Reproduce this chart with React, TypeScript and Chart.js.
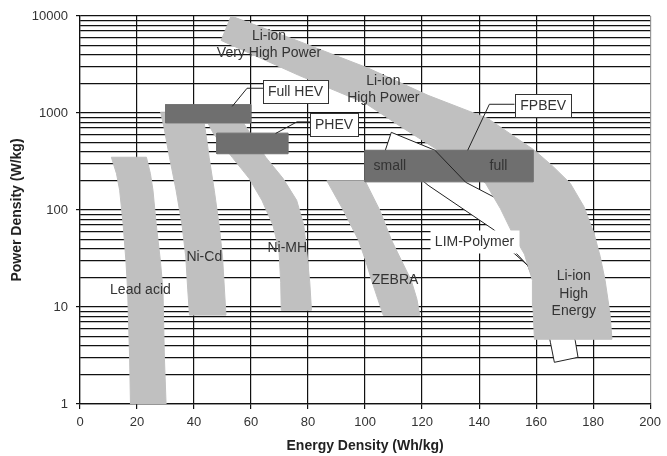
import React, { useEffect, useRef } from "react";
import { Chart, registerables } from "chart.js";
Chart.register(...registerables);

// Axis ticks
const X_TICKS = [0, 20, 40, 60, 80, 100, 120, 140, 160, 180, 200];
const Y_DECADES = [1, 10, 100, 1000, 10000];
const Y_MINOR_FACTORS = [1, 2, 3, 4, 5, 6, 7, 8, 9];

// Regions: [energy density Wh/kg, power density W/kg] outline vertices
const leadAcid: [number, number][] = [
  [11, 350], [23.3, 350], [24.7, 237], [25.6, 160], [26.7, 73], [28.2, 30], [29.1, 15], [29.6, 3.05], [30.2, 1],
  [17.7, 1], [17.4, 3.05], [16.7, 15], [16.1, 30], [15.1, 73], [13.9, 160], [12.8, 237], [11, 350],
];
const niCd: [number, number][] = [
  [28.3, 1020], [44, 1020], [43.6, 778], [44.6, 500], [45.3, 349], [47.1, 160], [48.8, 70], [50, 32.8], [51.2, 8.25],
  [38.4, 8.25], [37.8, 15], [37.1, 32.8], [35.8, 70], [33.7, 160], [31.4, 349], [29.5, 700], [28.3, 1020],
];
const niMh: [number, number][] = [
  [43, 1000], [55, 1000], [60, 600], [65.2, 349], [71.2, 212], [76, 126], [78.5, 69.5], [79.5, 38.4], [80.6, 18], [81.2, 9.25],
  [70.6, 9.25], [70.4, 18], [69.8, 38.4], [67.7, 69.5], [63.8, 126], [59.3, 212], [53.4, 349], [47, 600], [43, 1000],
];
const zebra: [number, number][] = [
  [86.6, 200], [100, 200], [105.2, 99], [109.3, 48.7], [112.8, 30], [116.2, 18.8], [118.2, 12], [119.2, 8.2],
  [106.4, 8.2], [104.5, 12], [102.3, 18.8], [100.2, 30], [97.7, 48.7], [92.4, 99], [86.6, 200],
];
const liIon: [number, number][] = [
  [53, 10000], [76.7, 5500], [101.2, 2890], [122.1, 1520], [143, 880], [159.4, 413], [166, 280], [172, 188],
  [176.8, 108], [180.3, 57.5], [182.5, 33], [184.2, 18.8], [185.9, 8.6], [186.6, 4.65],
  [159.4, 4.65], [158.9, 10], [158.7, 18.8], [155.9, 35], [151.7, 57.5], [147.5, 103], [142.3, 188],
  [134.3, 290], [125.6, 413], [113.3, 700], [100.1, 1260], [76.7, 2450], [49.5, 5600], [53, 10000],
];
const limPolymer: [number, number][] = [
  [109.2, 632], [124.5, 413], [135.3, 193], [145.4, 135], [153.5, 74.7], [160.4, 30.3], [167.4, 11.7],
  [173.7, 4.54], [174.7, 3.03], [166.4, 2.69], [165, 4.33], [162.2, 11.7], [157, 26.9], [145.4, 61.8],
  [122.1, 180], [115.1, 269], [107.1, 413], [109.2, 632],
];
const fullHev: [number, number][] = [[30, 790], [60, 790], [60, 1220], [30, 1220], [30, 790]];
const phev: [number, number][] = [[48, 380], [73, 380], [73, 620], [48, 620], [48, 380]];
const fpbev: [number, number][] = [[100, 195], [159, 195], [159, 413], [100, 413], [100, 195]];

// Leader lines
const fullHevLeader: [number, number][] = [[64.5, 1800], [58.6, 1800], [53.4, 1170]];
const phevLeader: [number, number][] = [[80.8, 810], [76.1, 810], [68.6, 615]];
const fpbevLeader: [number, number][] = [[152.4, 1230], [143.6, 1230], [136, 413]];
const limLeader: [number, number][] = [[150.7, 39.3], [157, 26.9]];
const limInBox: [number, number][] = [[124.5, 413], [135.3, 193]];

type Label = { lines: string[]; x: number; y: number; box?: boolean; bg?: boolean };
const LABELS: Label[] = [
  { lines: ["Li-ion", "Very High Power"], x: 66.3, y: 5168 },
  { lines: ["Li-ion", "High Power"], x: 106.4, y: 1776 },
  { lines: ["Full HEV"], x: 75.6, y: 1686, box: true },
  { lines: ["PHEV"], x: 89.1, y: 761, box: true },
  { lines: ["FPBEV"], x: 162.5, y: 1215, box: true },
  { lines: ["small"], x: 108.7, y: 289 },
  { lines: ["full"], x: 146.8, y: 289 },
  { lines: ["Lead acid"], x: 21.2, y: 15.1 },
  { lines: ["Ni-Cd"], x: 43.6, y: 33.3 },
  { lines: ["Ni-MH"], x: 72.7, y: 41.6 },
  { lines: ["ZEBRA"], x: 110.5, y: 19.2 },
  { lines: ["LIM-Polymer"], x: 138.4, y: 47.6, bg: true },
  { lines: ["Li-ion", "High", "Energy"], x: 173.2, y: 14.0 },
];

const BAND = "#c0c0c0";
const DARK = "#6f6f6f";
const FONT = '"Liberation Sans", Arial, sans-serif';

const pts = (a: [number, number][]) => a.map(([x, y]) => ({ x, y }));
const poly = (a: [number, number][], fillColor: string, border?: string) => ({
  data: pts(a),
  showLine: true,
  fill: "shape",
  backgroundColor: fillColor,
  borderColor: border ?? fillColor,
  borderWidth: 1,
  pointRadius: 0,
  tension: 0,
});
const line = (a: [number, number][]) => ({
  data: pts(a),
  showLine: true,
  fill: false,
  borderColor: "#222",
  borderWidth: 1,
  pointRadius: 0,
  tension: 0,
});

const labelPlugin = {
  id: "regionLabels",
  afterDatasetsDraw(chart: any) {
    const { ctx, scales } = chart;
    const xs = scales.x;
    const ys = scales.y;
    ctx.save();
    ctx.font = `14px ${FONT}`;
    ctx.textAlign = "center";
    ctx.textBaseline = "middle";
    const lh = 17.5;
    for (const lb of LABELS) {
      const cx = xs.getPixelForValue(lb.x);
      const cy = ys.getPixelForValue(lb.y);
      const n = lb.lines.length;
      if (lb.box || lb.bg) {
        const w = Math.max(...lb.lines.map((t) => ctx.measureText(t).width)) + 10;
        const h = n * lh + 5;
        const l = Math.round(cx - w / 2) + 0.5;
        const t = Math.round(cy - h / 2) + 0.5;
        ctx.fillStyle = "#fff";
        ctx.fillRect(l, t, Math.round(w), Math.round(h));
        if (lb.box) {
          ctx.strokeStyle = "#333";
          ctx.lineWidth = 1;
          ctx.strokeRect(l, t, Math.round(w), Math.round(h));
        }
      }
      ctx.fillStyle = "#333";
      lb.lines.forEach((t, i) => ctx.fillText(t, cx, cy + (i - (n - 1) / 2) * lh + 1));
    }
    ctx.restore();
  },
};

export default function App() {
  const ref = useRef<HTMLCanvasElement>(null);
  useEffect(() => {
    if (!ref.current) return;
    const yTicks: number[] = [];
    Y_DECADES.slice(0, -1).forEach((d) => Y_MINOR_FACTORS.forEach((f) => yTicks.push(f * d)));
    yTicks.push(Y_DECADES[Y_DECADES.length - 1]);
    const chart = new Chart(ref.current, {
      type: "scatter",
      data: {
        datasets: [
          line(fullHevLeader),
          line(phevLeader),
          line(fpbevLeader),
          line(limLeader),
          line(limInBox),
          poly(fullHev, DARK),
          poly(phev, DARK),
          poly(fpbev, DARK),
          poly(liIon, BAND),
          poly(limPolymer, "#ffffff", "#222"),
          poly(zebra, BAND),
          poly(niMh, BAND),
          poly(niCd, BAND),
          poly(leadAcid, BAND),
        ] as any,
      },
      options: {
        animation: false,
        responsive: false,
        layout: { padding: { top: 16, right: 14, left: 0, bottom: 0 } },
        plugins: { legend: { display: false }, tooltip: { enabled: false } },
        font: { family: FONT },
        scales: {
          x: {
            type: "linear",
            min: 0,
            max: 200,
            afterBuildTicks: (s: any) => {
              s.ticks = X_TICKS.map((v) => ({ value: v }));
            },
            afterFit: (s: any) => {
              s.height = 52;
            },
            grid: {
              color: (c: any) => (c.tick && c.tick.value === 200 ? "#9a9a9a" : "#111"),
              lineWidth: 1.2,
              tickLength: 5,
              tickColor: "#111",
            },
            border: { color: "#111", width: 1.2 },
            ticks: { font: { size: 13, family: FONT }, color: "#333", padding: 6, maxRotation: 0, autoSkip: false },
            title: {
              display: true,
              text: "Energy Density (Wh/kg)",
              font: { size: 14, weight: "bold", family: FONT },
              color: "#222",
              padding: { top: 0, bottom: 1 },
            },
          },
          y: {
            type: "logarithmic",
            min: 1,
            max: 10000,
            afterBuildTicks: (s: any) => {
              s.ticks = yTicks.map((v) => ({ value: v }));
            },
            afterFit: (s: any) => {
              s.width = 80;
            },
            grid: {
              color: "#111",
              lineWidth: 1.2,
              tickLength: 4,
              tickColor: (c: any) => (c.tick && Y_DECADES.includes(c.tick.value) ? "#111" : "rgba(0,0,0,0)"),
            },
            border: { color: "#111", width: 1.2 },
            ticks: {
              autoSkip: false,
              font: { size: 13, family: FONT },
              color: "#333",
              padding: 8,
              callback: (v: any) => (Y_DECADES.includes(Number(v)) ? String(v) : ""),
            },
            title: {
              display: true,
              text: "Power Density (W/kg)",
              font: { size: 14, weight: "bold", family: FONT },
              color: "#222",
              padding: { top: 9, bottom: 0 },
            },
          },
        },
      } as any,
      plugins: [labelPlugin],
    });
    return () => chart.destroy();
  }, []);
  return (
    <div style={{ position: "fixed", left: 0, top: 0, width: 667, height: 456, background: "#fff" }}>
      <canvas ref={ref} width={667} height={456} />
    </div>
  );
}
